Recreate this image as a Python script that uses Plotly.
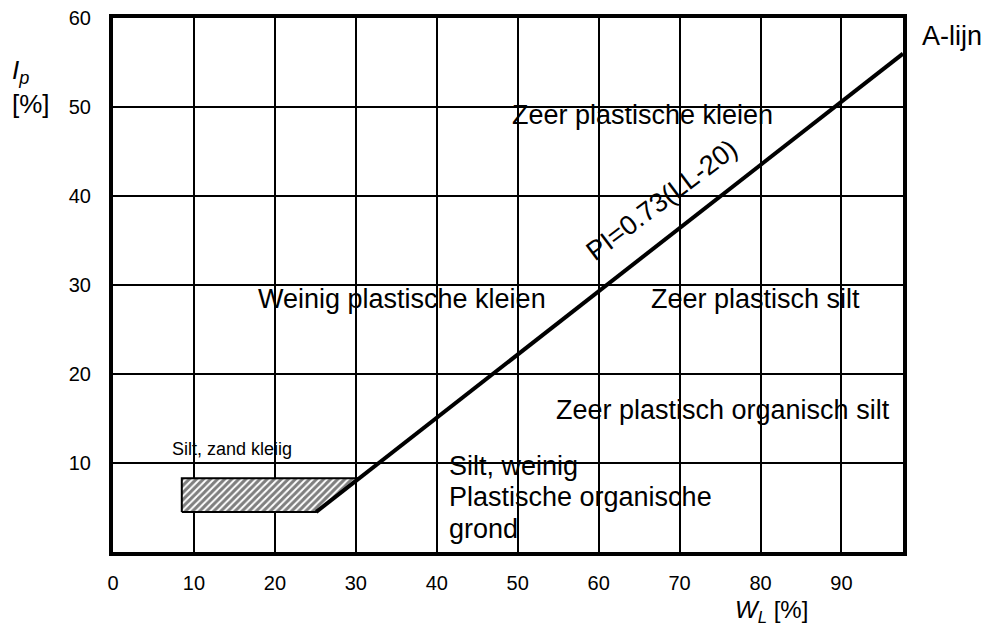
import plotly.graph_objects as go

# ---- data ----
x_ticks = [0, 10, 20, 30, 40, 50, 60, 70, 80, 90]
y_ticks = [10, 20, 30, 40, 50, 60]

# A-line: PI = 0.73 (LL - 20), endpoints as drawn
a_line_ll = [25.1, 97.6]
a_line_pi = [4.5, 56.0]

# hatched zone "Silt, zand kleiig"
zone_ll = [8.5, 25.1, 30.3, 8.5, 8.5]
zone_pi = [4.5, 4.5, 8.3, 8.3, 4.5]

labels = [
    ("Zeer plastische kleien", 65.4, 49.1),
    ("Weinig plastische kleien", 35.7, 28.4),
    ("Zeer plastisch silt", 79.4, 28.4),
    ("Zeer plastisch organisch silt", 75.4, 16.0),
]

# left-aligned three-line label, one line each
block_lines = [("Silt, weinig", 9.66), ("Plastische organische", 6.18), ("grond", 2.58)]
block_x = 41.3

FONT = "Liberation Sans, Arial, sans-serif"
MAIN = 27

fig = go.Figure()

fig.add_trace(go.Scatter(
    x=zone_ll, y=zone_pi, mode="lines", fill="toself",
    line=dict(color="black", width=2),
    fillcolor="white",
    fillpattern=dict(shape="/", size=5, solidity=0.6, fgcolor="black", bgcolor="white"),
    hoverinfo="skip", showlegend=False,
))

fig.add_trace(go.Scatter(
    x=a_line_ll, y=a_line_pi, mode="lines",
    line=dict(color="black", width=4),
    showlegend=False,
))

for txt, x, y in labels:
    fig.add_annotation(x=x, y=y, text=txt, showarrow=False,
                       font=dict(family=FONT, size=MAIN, color="black"))

fig.add_annotation(x=67.8, y=39.6, text="PI=0.73(LL-20)", textangle=-37,
                   showarrow=False, font=dict(family=FONT, size=MAIN, color="black"))

fig.add_annotation(x=14.7, y=11.6, text="Silt, zand kleiig", showarrow=False,
                   font=dict(family=FONT, size=18, color="black"))

for txt, y in block_lines:
    fig.add_annotation(x=block_x, y=y, text=txt, showarrow=False,
                       xanchor="left", yanchor="middle",
                       font=dict(family=FONT, size=MAIN, color="black"))

fig.add_annotation(xref="paper", yref="paper", x=1.0215, y=0.966, text="A-lijn",
                   xanchor="left", yanchor="middle", showarrow=False,
                   font=dict(family=FONT, size=MAIN, color="black"))

fig.add_annotation(xref="paper", yref="paper", x=-0.1304, y=0.871,
                   text="<i>I</i><sub><i>p</i></sub><br>[%]", xanchor="left",
                   yanchor="middle", align="left",
                   showarrow=False, font=dict(family=FONT, size=26, color="black"))

fig.add_annotation(xref="paper", yref="paper", x=0.834, y=-0.1105,
                   text="<i>W</i><sub><i>L</i></sub> [%]",
                   xanchor="center", yanchor="middle",
                   showarrow=False, font=dict(family=FONT, size=24, color="black"))

fig.update_layout(
    width=989, height=632,
    margin=dict(l=105, r=94, t=10, b=88),
    paper_bgcolor="white", plot_bgcolor="white",
    font=dict(family=FONT, color="black"),
)

fig.update_xaxes(
    range=[0, 97.6], tickvals=x_ticks, ticktext=[str(v) for v in x_ticks],
    showgrid=True, gridcolor="black", gridwidth=1.5, zeroline=False, automargin=False,
    showline=True, mirror=True, linecolor="black", linewidth=4,
    ticks="", ticklabelstandoff=10, ticklabeloverflow="allow",
    tickfont=dict(family=FONT, size=20, color="black"),
)
fig.update_yaxes(
    range=[0, 60], tickvals=y_ticks, ticktext=[str(v) for v in y_ticks],
    showgrid=True, gridcolor="black", gridwidth=1.5, zeroline=False, automargin=False,
    showline=True, mirror=True, linecolor="black", linewidth=4,
    ticks="", ticklabelstandoff=14, ticklabeloverflow="allow",
    tickfont=dict(family=FONT, size=20, color="black"),
)

fig.write_html("out.html")
